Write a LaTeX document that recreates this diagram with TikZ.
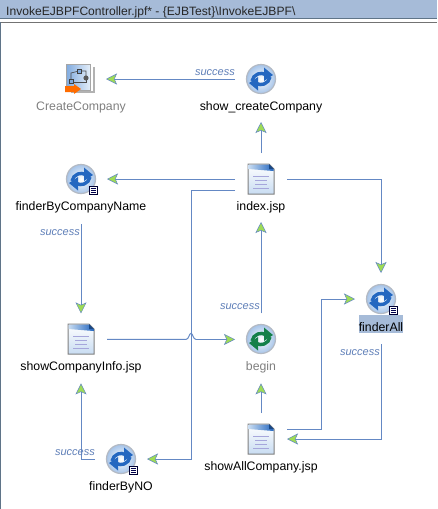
\documentclass[tikz,border=0pt]{standalone}
\usepackage{fontspec}
\setmainfont{Liberation Sans}
\usetikzlibrary{arrows.meta,calc}
\definecolor{edgeblue}{HTML}{6488C4}
\definecolor{tipgreen}{HTML}{9EDC55}
\definecolor{labelblue}{HTML}{5F7FB8}
\definecolor{ringgray}{HTML}{B4BAC4}
\definecolor{spinblue}{HTML}{2467C0}
\definecolor{spingreen}{HTML}{14804A}
\definecolor{barblue}{HTML}{A6BBD8}
\definecolor{framedark}{HTML}{5F7488}
\definecolor{paleblue}{HTML}{C8DCF2}
\definecolor{midblue}{HTML}{7FAADF}
\tikzset{
  x=1pt,y=-1pt,
  flow/.style={draw=edgeblue,line width=1pt,-{Stealth[length=11pt,width=11pt,inset=2.5pt,fill=tipgreen,line width=0.5pt]}},
  plainflow/.style={draw=edgeblue,line width=1pt},
  iconbox/.style={minimum size=52pt,inner sep=0pt,outer sep=0pt},
  captxt/.style={font=\fontsize{12.3}{14}\selectfont,inner sep=0pt,text=black},
  capgray/.style={captxt,text=black!50},
  succ/.style={font=\fontsize{11}{13}\selectfont\itshape,inner sep=0pt,text=labelblue},
  pics/refresh/.style={code={
    \shade[inner color=white,outer color=midblue!70] (0,0) circle (14.5);
    \draw[ringgray,line width=1.2pt] (0,0) circle (14.5);
    \draw[#1,line width=3.4pt] (-9,2) arc[start angle=-170,end angle=-60,radius=9.2];
    \fill[#1] (3,-11.5) -- (12,-4) -- (3,2) -- cycle;
    \draw[#1,line width=3.4pt] (9,-2) arc[start angle=10,end angle=120,radius=9.2];
    \fill[#1] (-3,11.5) -- (-12,4) -- (-3,-2) -- cycle;
  }},
  pics/badge/.style={code={
    \draw[fill=white,draw=black!80!blue,line width=0.8pt] (-4,-4) rectangle (4,4);
    \foreach \q in {-2,0,2}{\draw[black!70!blue,line width=0.7pt] (-2.5,\q) -- (2.5,\q);}
  }},
  pics/page/.style={code={
    \shade[top color=white,bottom color=paleblue,draw=black!50,line width=1pt]
       (-13,-15) -- (8,-15) -- (13,-10) -- (13,15) -- (-13,15) -- cycle;
    \shade[left color=paleblue,right color=spinblue] (-12.5,-14.5) -- (8,-14.5) -- (8,-10) -- (12.5,-10) -- (12.5,-8) -- (-12.5,-10) -- cycle;
    \fill[spinblue!70!black] (8,-15) -- (8,-10) -- (13,-10) -- cycle;
    \foreach \q/\w in {-3/8,1/6,5/6,9/8}{\draw[black!40!blue!35!white,line width=0.7pt] (-\w,\q) -- (\w,\q);}
  }},
  pics/pageflow/.style={code={
    \fill[black!30] (-9,-12) rectangle (15,14);
    \fill[white] (-11,-13) rectangle (13,12);
    \shade[left color=midblue,right color=paleblue!50,draw=black!35,line width=0.7pt] (-14,-15) rectangle (10,11);
    \draw[black!70,line width=0.7pt] (-9,0) -- (-9,-6) -- (-1,-8) -- (6,-8) -- (6,-1);
    \draw[black!70,line width=0.7pt] (-9,3) -- (6,3) -- (6,-1);
    \draw[fill=midblue,draw=black!75,line width=0.6pt] (-3,-10) rectangle (1,-6);
    \draw[fill=midblue,draw=black!75,line width=0.6pt] (-11,0) rectangle (-7,4);
    \fill[black!65] (6,-1) circle (2.6);
    \fill[orange!85!red] (-15,7) -- (-6,7) -- (-6,5) -- (1,10) -- (-6,15) -- (-6,13) -- (-15,13) -- cycle;
  }}
}
\begin{document}
\begin{tikzpicture}
\useasboundingbox (0,0) rectangle (437,509);
\fill[white] (0,0) rectangle (437,509);
% window frame
\fill[barblue] (0,0) rectangle (437,18);
\fill[framedark] (0,18) rectangle (437,18.8);
\fill[black!55] (0,22) rectangle (437,22.8);
\fill[framedark] (0,22) rectangle (1.3,509);
\node[font=\fontsize{12.1}{14}\selectfont,anchor=west,inner sep=0pt,text=black!85] (ttl) at (6,12)
  {InvokeEJBPFController.jpf* - \{EJBTest\}\textbackslash InvokeEJBPF\textbackslash};

% icon holders
\node[iconbox] (cc) at (80,79) {};
\node[iconbox] (sc) at (261,79) {};
\node[iconbox] (fn) at (81,179) {};
\node[iconbox] (ix) at (261,179) {};
\node[iconbox] (si) at (81,339.4) {};
\node[iconbox] (bg) at (261,339.4) {};
\node[iconbox] (fa) at (381,299) {};
\node[iconbox] (sa) at (261,439) {};
\node[iconbox] (no) at (121,459) {};

% icons
\pic at (80,79) {pageflow};
\pic at (261,79) {refresh=spinblue};
\pic at (81,179) {refresh=spinblue};
\pic at (93,190) {badge};
\pic at (261,179) {page};
\pic at (81,339) {page};
\pic at (261,339) {refresh=spingreen};
\pic at (381,299) {refresh=spinblue};
\pic at (393,310) {badge};
\pic at (261,439) {page};
\pic at (121,459) {refresh=spinblue};
\pic at (133,470) {badge};

% captions
\fill[barblue] (359,315) rectangle (403,333);
\node[capgray] (ccl) at (81,107) {CreateCompany};
\node[captxt] (scl) at (261,107) {show\_createCompany};
\node[captxt] (fnl) at (81,207) {finderByCompanyName};
\node[captxt] (ixl) at (261,207) {index.jsp};
\node[captxt] (sil) at (81,367) {showCompanyInfo.jsp};
\node[capgray] (bgl) at (261,367) {begin};
\node[captxt] (fal) at (381,327) {finderAll};
\node[captxt] (sal) at (261,467) {showAllCompany.jsp};
\node[captxt] (nol) at (121,487) {finderByNO};

% corner points of the routes
\coordinate (kA) at (191,190);
\coordinate (kB) at (191,459);
\coordinate (hL) at (186,339.4);
\coordinate (hR) at (196,339.4);
\coordinate (kC) at (321,429);
\coordinate (kD) at (321,299);
\coordinate (kE) at (381,439);
\coordinate (kF) at (81,459);

% connectors
\draw[flow] (sc.west) -- (cc.east);
\draw[flow] (ix.north) -- ([yshift=-17pt]sc.south);
\draw[flow] (ix.west) -- (fn.east);
\draw[flow] ([yshift=-11pt]ix.west) -- (kA) -- (kB) -- (no.east);
\draw[flow] (ix.east) -| (fa.north);
\draw[flow] ([yshift=-19pt]fn.south) -- (si.north);
\draw[plainflow] (si.east) -- (hL) .. controls ($(hL)+(3,0)$) and ($(hL)+(3,-6)$) .. ($(hL)+(5,-6)$)
   .. controls ($(hR)+(-3,-6)$) and ($(hR)+(-3,0)$) .. (hR);
\draw[flow] (hR) -- (bg.west);
\draw[flow] (bg.north) -- ([yshift=-17pt]ix.south);
\draw[flow] (sa.north) -- ([yshift=-18pt]bg.south);
\draw[flow] ([yshift=10pt]sa.east) -- (kC) -- (kD) -- (fa.west);
\draw[flow] ([yshift=-19pt]fa.south) -- (kE) -- (sa.east);
\draw[flow] (no.west) -- (kF) -- ([yshift=-18pt]si.south);

% transition labels
\node[succ,anchor=east] (l1) at (235,73) {success};
\node[succ,anchor=east] (l2) at (80,233) {success};
\node[succ,anchor=east] (l3) at (260,307) {success};
\node[succ,anchor=east] (l4) at (380,353) {success};
\node[succ,anchor=east] (l5) at (95,453) {success};
\end{tikzpicture}
\end{document}
